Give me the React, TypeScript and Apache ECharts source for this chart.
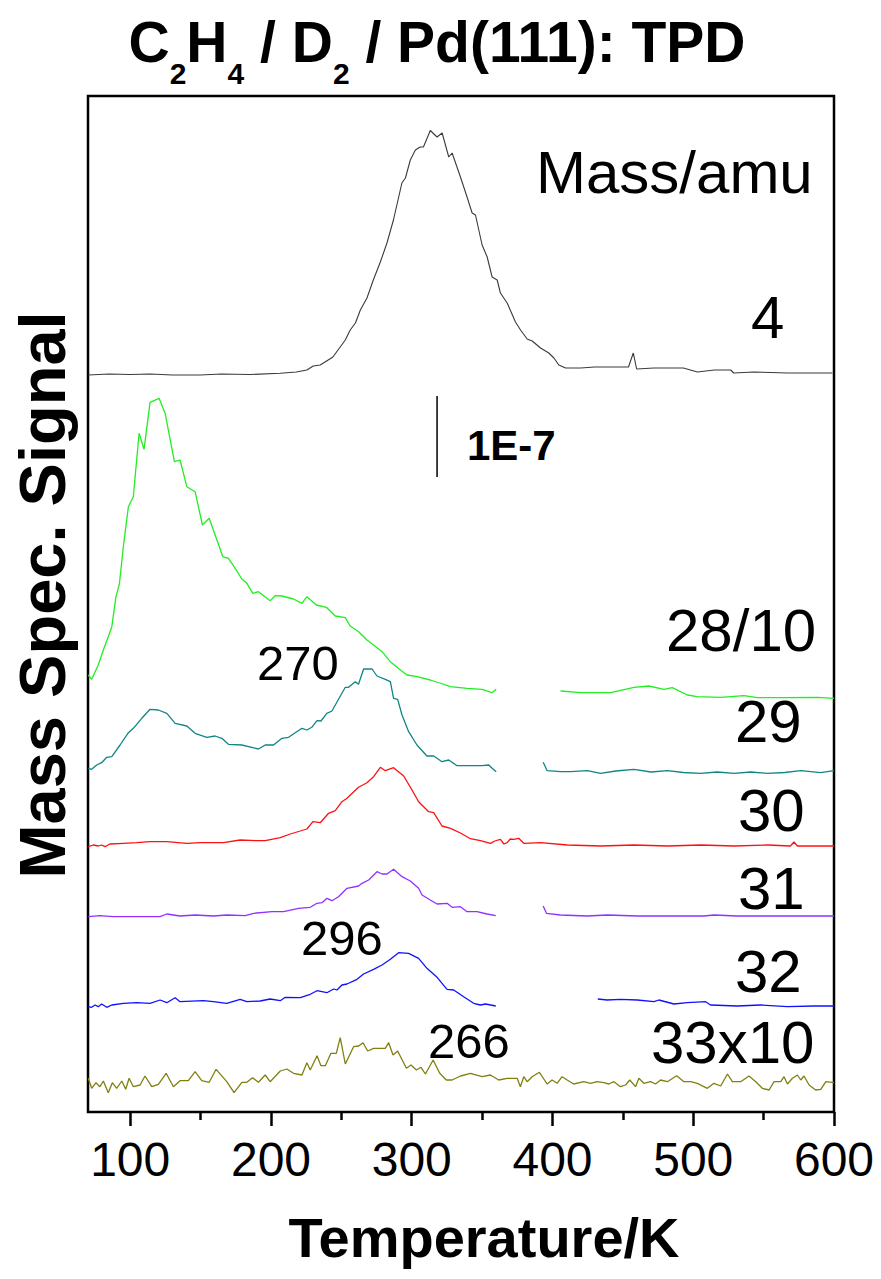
import React, { useEffect, useRef } from "react";
import * as echarts from "echarts";

// Temperature axis (K)
const xMin = 70;
const xMax = 600;
const xMajorTicks = [100, 200, 300, 400, 500, 600];
const xMinorTicks = [150, 250, 350, 450, 550];

// Signals (arbitrary offset units, stacked traces as in the figure)
const mass4: [number, number][] = [
  [70.2, 737], [85, 738], [100, 737.5], [114, 738], [130, 737], [149.7, 737], [165, 738], [185, 737.5],
  [206.6, 738.7], [218, 740], [225.5, 742], [230, 746], [235, 747], [244, 755], [252.8, 772], [256.3, 782],
  [260, 789], [263.5, 802], [268.2, 814], [272.7, 832], [277.7, 850], [282.4, 869], [287, 892], [293, 929],
  [295.5, 934], [299, 952], [302.6, 962], [306, 965], [308.3, 965], [313.2, 981.5], [318, 975], [321.6, 979],
  [326.3, 955], [328.7, 959], [334.6, 935], [339.3, 915], [342.9, 899], [345.3, 897], [350, 867], [353.6, 855],
  [357.1, 835], [360.7, 832], [363, 819], [367.8, 809], [373.7, 790], [377.3, 782], [382, 773], [385.6, 771],
  [391.5, 764], [397.4, 759], [401, 754], [404.5, 747], [409.3, 744], [420, 744], [430, 745], [443.4, 745],
  [454, 745], [457.4, 759], [459.8, 743], [472, 744], [493, 744], [503, 740], [515, 742], [526.6, 742],
  [528.7, 739], [543, 740], [567, 739], [585.6, 739], [598.9, 739],
];

const mass28: [number, number | string][] = [
  [70.2, 437], [72.6, 432.7], [77.3, 447], [80.9, 462], [84.4, 475.3], [86.9, 485.3], [89.9, 515.3], [92.3, 528],
  [95.1, 565.3], [98.7, 605.3], [102.2, 615.3], [106.3, 678.7], [109.8, 662.7], [114.1, 709.7], [120.5, 713.7],
  [124.8, 698.7], [131.4, 650.3], [135.4, 652], [140.2, 625.3], [146.1, 620.3], [151.3, 587], [156.1, 593.7],
  [165.8, 555.3], [169.8, 553.7], [174.6, 543.7], [179.3, 533], [182.9, 528.7], [187.1, 518.7], [191.1, 520.3],
  [199.4, 511.3], [203, 516.3], [207.8, 516], [216, 513], [222, 508.7], [225.5, 515.3], [232.2, 507],
  [239.3, 504.7], [245.7, 496], [252.8, 494.3], [256.3, 486], [262.3, 480.3], [268.2, 472], [272.9, 467],
  [278.9, 460.3], [284.8, 450.3], [291.9, 442], [296.7, 437], [303.8, 435.3], [313.2, 432], [320, 429],
  [327.5, 425.3], [339.3, 423.7], [350, 422.7], [357.1, 419.3], [360, 422.7],
  [380, "-"],
  [405.7, 421], [420, 419.3], [441.3, 419.3], [457.9, 424.7], [468.5, 426], [479.2, 422.7], [485.1, 424.3],
  [495.8, 417], [502.9, 415.3], [519.5, 414.7], [536.1, 416.3], [545.6, 414.3], [564.5, 414.3], [588.3, 414.7],
  [600, 413.7],
];

const mass29: [number, number | string][] = [
  [70.2, 343.7], [72.6, 342.7], [76.2, 347], [79.7, 349.3], [83.3, 354.7], [86.9, 355.3], [92.8, 367],
  [98.7, 379.3], [102.2, 383.7], [108.2, 393.7], [114.1, 402.7], [120, 402], [126, 398.7], [131.9, 388.7],
  [140.2, 386], [146.1, 378.7], [154.4, 374.7], [160.3, 376], [165.1, 373.7], [169.8, 367.7], [179.3, 367],
  [191.1, 363], [195.9, 367], [201.8, 367], [207.8, 373.7], [212.5, 374.7], [217.2, 379.3], [222, 383.7],
  [225.5, 382], [229, 384.7], [232.7, 391.3], [235.5, 391], [239.7, 398.7], [243.3, 401], [248, 412.7],
  [252.8, 424.7], [255.1, 424.7], [259.9, 430.3], [262.2, 427.7], [265.8, 443], [271.8, 443], [275.3, 436],
  [281.2, 432.7], [284.8, 430.3], [287.1, 413.7], [290, 412.7], [293.1, 397], [297.8, 380.3], [303.7, 367],
  [310.8, 356], [315.6, 356], [321.5, 350.3], [326.3, 352], [332.2, 346.3], [344, 346.3], [350, 346.3],
  [354.7, 347], [357.1, 343.7], [360, 340.3],
  [376, "-"],
  [393.4, 349.7], [396.2, 341.3], [405.7, 340.3], [412.8, 340.3], [424.7, 341.3], [434.2, 338.7], [445, 341],
  [457.9, 342.7], [470, 340], [481.6, 341.3], [493, 339.5], [505.3, 338.7], [517, 340], [529, 338.7],
  [541, 340], [552.7, 338.7], [565, 339.5], [576.4, 341.3], [590.6, 339.3], [600, 341.3],
];

const mass30: [number, number][] = [
  [70.2, 265.3], [73.7, 267], [77.3, 266], [79.7, 267], [82.1, 265.3], [85.6, 268], [95.1, 268.7],
  [104.6, 269.3], [114.1, 270.3], [126, 270.3], [140.2, 268.7], [149.7, 269.3], [166.2, 269.3], [178.1, 272],
  [190, 271.3], [195.9, 271.3], [206.6, 274.3], [213.7, 278], [220.8, 281], [225.5, 283], [229.8, 290.3],
  [235, 289.3], [240.9, 298.7], [245.7, 301.3], [250.4, 310.3], [254, 313.7], [262.2, 324.7], [268.2, 329.3],
  [272.9, 335.3], [277.7, 344.7], [281.2, 341.3], [287.1, 344.3], [294.3, 336], [300.2, 322], [304.9, 310.3],
  [312, 300.3], [315.6, 299.3], [321.5, 286], [327.5, 283.7], [334.6, 279], [341.7, 273.3], [348.8, 271.3],
  [355.9, 268.7], [359, 271], [363, 272.7], [365.5, 268], [367.8, 269.3], [370, 273], [372.5, 272.7],
  [376, 273.7], [379.6, 268.7], [391.5, 269.3], [410.5, 267], [434.2, 266], [457.9, 267], [481.6, 266],
  [505.3, 267], [529, 266], [552.7, 267], [569, 266], [571.6, 270], [574, 266], [600, 266],
];

const mass31: [number, number | string][] = [
  [70.2, 195.3], [78.5, 196.3], [88, 195.3], [97.5, 195.3], [121.2, 195.3], [126, 198], [135.4, 196],
  [146.1, 197], [159.1, 196], [168.6, 197], [181.7, 196.3], [187.6, 198.7], [200.7, 200.3], [208.9, 200.3],
  [219.6, 203.7], [227.9, 204.7], [232.7, 208.7], [236.2, 209.3], [239.8, 213.7], [243.3, 211.3],
  [248, 215.3], [254, 223.7], [262.2, 226], [264.7, 228.7], [269.4, 232], [275.3, 240.3], [278.9, 238],
  [282.4, 238], [287.1, 242.7], [293.1, 235.3], [299, 231], [304.9, 223.7], [307.3, 217], [313.2, 212],
  [318, 208], [325.1, 208.7], [328.7, 204.7], [334.6, 205.3], [339.3, 200.3], [346.4, 200.3], [353.5, 198],
  [359.7, 196.3],
  [376, "-"],
  [393.4, 206], [395.7, 198.7], [405.7, 197], [424.6, 196], [438.9, 197], [460.2, 196], [483.9, 196],
  [507.6, 196], [514.7, 197], [531.3, 196], [555, 196], [578.7, 196], [600, 196],
];

const mass32: [number, number | string][] = [
  [70.2, 105.3], [72.6, 104.7], [75, 107], [77.3, 105.3], [79.7, 108], [83.3, 104.7], [86.9, 107],
  [95.1, 108.7], [104.6, 109.3], [114.1, 108.7], [121.2, 112], [126, 109.3], [131.9, 114.3], [135.4, 110.3],
  [152, 111.3], [159.1, 110.3], [168.6, 108.7], [178.1, 112.7], [182.9, 110.3], [192.3, 111], [199.4, 113],
  [206.6, 111.3], [210.1, 114.7], [220.8, 114.3], [227.9, 117.7], [232.7, 121.3], [239.7, 119.3],
  [244.5, 123], [246.9, 122], [250.4, 127], [254, 128], [261.1, 132.7], [265.8, 138], [272.9, 142.7],
  [278.9, 147], [284.8, 152.7], [290.7, 159.3], [297.8, 158.7], [304.9, 153.7], [310.8, 143.7], [318, 134.7],
  [325.1, 122.7], [329.8, 122], [336.9, 115.3], [344, 108.7], [348.8, 107], [352.4, 108], [359.7, 106],
  [395, "-"],
  [432.2, 113], [438.9, 112], [448.3, 112.7], [460.2, 112], [472.1, 110.3], [475.6, 112], [486.3, 108],
  [495.8, 109.3], [508.8, 110.3], [512.3, 107], [531.3, 106], [547.9, 107], [566.9, 105.3], [585.9, 106],
  [600, 106],
];

const mass33: [number, number][] = [
  [70.2, 33.7], [72.6, 23.7], [75.7, 29.3], [78.5, 25.3], [80.9, 31], [84.4, 19.3], [87.3, 29.3], [90.4, 23.7],
  [94, 31], [96.8, 22.7], [99.2, 33.7], [102.2, 25.3], [107, 27], [110.5, 36], [115.3, 25.3], [120, 27.7],
  [125.5, 38.7], [130.7, 25.3], [135.4, 31.3], [141.3, 31.3], [146.1, 40.3], [150.8, 31.3], [156.1, 29.7],
  [161, 42.7], [168.6, 30.3], [173.8, 19.3], [179.3, 29.7], [182.8, 29.7], [186.9, 34.3], [191.1, 29.7],
  [195.9, 37], [199.4, 30.3], [206.6, 41], [211.3, 43], [216, 38.7], [222, 37], [225.5, 49.3], [227.9, 42],
  [232.7, 56.3], [235.5, 46.3], [238.6, 46.3], [242.6, 58.7], [246.4, 58.7], [249.2, 74.3], [252.8, 48],
  [258.7, 65.3], [262.3, 66], [265.4, 69.3], [268.7, 61], [272.9, 63.7], [281.2, 63.7], [283.6, 69.3],
  [286.7, 57], [290, 61], [296.2, 43.7], [299.5, 47], [303.3, 42], [306.6, 44.7], [309.7, 38], [315.2, 52],
  [319.9, 38.7], [324.6, 32], [328.7, 32], [334.6, 36], [341.7, 38.7], [350, 35.3], [355.9, 37], [361.8, 32],
  [367.8, 33.7], [374.9, 33.7], [377.2, 25.3], [379.6, 35.3], [382, 30.3], [385.5, 35.3], [390.7, 39.7],
  [396.2, 28], [399.7, 32], [403.3, 28.7], [406.8, 35.3], [410.4, 32], [415.1, 28], [422.2, 30.3],
  [427, 28.7], [431.8, 30.3], [436.5, 29.3], [440, 28], [443.6, 30.3], [448.3, 25.3], [451.9, 27],
  [454.9, 32], [459, 25.3], [461.4, 33.7], [464.9, 28.7], [469.7, 30.3], [473.2, 28], [476.8, 32],
  [481.6, 30.3], [488.2, 36.3], [493.4, 30.3], [498.2, 30.3], [502.9, 28.7], [510, 23.7], [514.7, 28.7],
  [519.5, 26], [524.3, 38], [527.8, 30.3], [533.7, 30.3], [539.6, 36], [544.4, 30.3], [549.1, 23.7],
  [553.9, 22], [557.4, 30.3], [562.2, 30.3], [564.5, 35.3], [566.9, 28], [570.5, 33.7], [574, 37],
  [576.4, 32], [578.7, 36], [582.3, 27], [587, 22], [590.6, 22.7], [594.2, 30.3], [600, 29.3],
];

// 1E-7 scale bar
const scaleBar: [number, number][] = [[318, 716], [318, 635]];

// Trace labels
const massLabels = ["Mass/amu", "4", "28/10", "29", "30", "31", "32", "33x10"];
const peakLabels = ["270", "296", "266"];

const FONT = "'Liberation Sans', Arial, Helvetica, sans-serif";

export default function App() {
  const ref = useRef<HTMLDivElement>(null);
  useEffect(() => {
    if (!ref.current) return;
    const chart = echarts.init(ref.current, undefined, { renderer: "svg" });
    const line = (name: string, data: any[], color: string, width = 1.3) => ({
      name,
      type: "line",
      data,
      showSymbol: false,
      symbol: "none",
      connectNulls: false,
      lineStyle: { color, width },
      silent: true,
      z: 3,
    });
    const labelText = (text: string, x: number, y: number, size: number, bold = false) => ({
      type: "text",
      x,
      y,
      style: {
        text,
        fontFamily: FONT,
        fontSize: size,
        fontWeight: bold ? "bold" : "normal",
        fill: "#000",
        align: "left",
        verticalAlign: "middle",
      },
    });
    const massPos: [number, number][] = [
      [536, 172.5], [751, 317.5], [666, 630], [735, 721.5], [738, 810.5], [738, 888], [735, 971], [651, 1042.5],
    ];
    const peakPos: [number, number][] = [[257, 662.5], [301, 938], [428, 1040.5]];

    chart.setOption({
      animation: false,
      backgroundColor: "#fff",
      grid: {
        left: 88,
        right: 47,
        top: 96,
        bottom: 167,
        show: true,
        borderColor: "#000",
        borderWidth: 2.5,
        backgroundColor: "transparent",
        containLabel: false,
      },
      xAxis: [
        {
          type: "value",
          min: xMin,
          max: xMax,
          position: "bottom",
          splitLine: { show: false },
          axisLine: { show: false },
          axisTick: {
            show: true,
            inside: false,
            length: 14,
            customValues: xMajorTicks,
            lineStyle: { color: "#000", width: 2.5 },
          },
          axisLabel: {
            show: true,
            customValues: xMajorTicks,
            margin: 23,
            fontSize: 48,
            fontFamily: FONT,
            color: "#000",
          },
        },
        {
          type: "value",
          min: xMin,
          max: xMax,
          position: "bottom",
          splitLine: { show: false },
          axisLine: { show: false },
          axisTick: {
            show: true,
            inside: false,
            length: 8,
            customValues: xMinorTicks,
            lineStyle: { color: "#000", width: 2.5 },
          },
          axisLabel: { show: false },
        },
      ],
      yAxis: {
        type: "value",
        min: 0,
        max: 1016,
        show: true,
        axisLine: { show: false },
        axisTick: { show: false },
        axisLabel: { show: false },
        splitLine: { show: false },
      },
      series: [
        line("4", mass4, "#3a3a3a", 1.1),
        line("28/10", mass28, "#22ee22"),
        line("29", mass29, "#118585"),
        line("30", mass30, "#ff1010"),
        line("31", mass31, "#9330ff"),
        line("32", mass32, "#1010ff"),
        line("33x10", mass33, "#808010"),
        line("scale", scaleBar, "#000", 1.5),
      ],
      graphic: [
        {
          type: "text",
          x: 437,
          y: 13,
          style: {
            text: "{m|C}{s|2}{m|H}{s|4}{m| / D}{s|2}{m| / Pd(111): TPD}",
            align: "center",
            verticalAlign: "top",
            fill: "#000",
            rich: {
              m: { fontSize: 57, fontWeight: "bold", fontFamily: FONT, lineHeight: 57, verticalAlign: "top", fill: "#000" },
              s: { fontSize: 30, fontWeight: "bold", fontFamily: FONT, lineHeight: 75, verticalAlign: "bottom", fill: "#000" },
            },
          },
        },
        {
          type: "text",
          x: 42,
          y: 595,
          rotation: Math.PI / 2,
          style: {
            text: "Mass Spec. Signal",
            fontFamily: FONT,
            fontSize: 65,
            fontWeight: "bold",
            fill: "#000",
            align: "center",
            verticalAlign: "middle",
          },
        },
        {
          type: "text",
          x: 484,
          y: 1237,
          style: {
            text: "Temperature/K",
            fontFamily: FONT,
            fontSize: 56,
            fontWeight: "bold",
            fill: "#000",
            align: "center",
            verticalAlign: "middle",
          },
        },
        ...massLabels.map((t, i) => labelText(t, massPos[i][0], massPos[i][1], 60)),
        ...peakLabels.map((t, i) => labelText(t, peakPos[i][0], peakPos[i][1], 49)),
        labelText("1E-7", 467, 445.5, 42, true),
      ],
    });
    return () => chart.dispose();
  }, []);
  return (
    <div
      ref={ref}
      style={{ position: "absolute", left: 0, top: 0, width: 881, height: 1279, background: "#fff" }}
    />
  );
}
